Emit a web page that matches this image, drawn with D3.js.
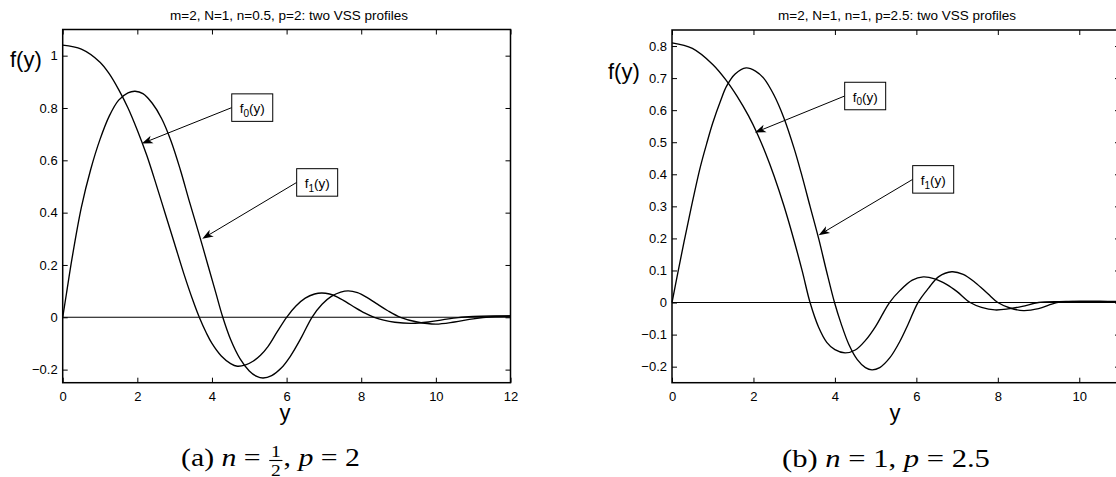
<!DOCTYPE html>
<html><head><meta charset="utf-8">
<script src="https://cdn.jsdelivr.net/npm/d3@7"></script>
<style>
body{margin:0;background:#fff}
svg{display:block}
text{fill:#000}
</style>
</head><body>
<svg id="c" width="1116" height="477"></svg>
<script>
// ---------------- data ----------------
const titleA = "m=2, N=1, n=0.5, p=2: two VSS profiles";
const titleB = "m=2, N=1, n=1, p=2.5: two VSS profiles";
const xTicksA = [0, 2, 4, 6, 8, 10, 12];
const yTicksA = [-0.2, 0, 0.2, 0.4, 0.6, 0.8, 1];
const xTicksB = [0, 2, 4, 6, 8, 10];
const yTicksB = [-0.2, -0.1, 0, 0.1, 0.2, 0.3, 0.4, 0.5, 0.6, 0.7, 0.8];

// panel (a): n=0.5, p=2
const aF0y = [0,0.5,1,1.25,1.5,1.75,2,2.25,2.5,2.75,3,3.25,3.5,3.66,3.85,4,4.25,4.5,4.68,4.9,5.1,5.3,5.5,5.75,6,6.25,6.5,6.75,6.94,7.15,7.35,7.6,7.85,8.1,8.35,8.6,8.9,9.35,9.8,10.2,10.6,11,11.5,12];
const aF0  = [1.04,1.025,0.975,0.93,0.87,0.80,0.715,0.62,0.51,0.395,0.28,0.165,0.06,0,-0.06,-0.1,-0.148,-0.177,-0.187,-0.182,-0.168,-0.145,-0.112,-0.055,0,0.043,0.073,0.089,0.093,0.089,0.078,0.058,0.036,0.016,0,-0.011,-0.019,-0.023,-0.018,-0.009,-0.001,0.003,0.005,0.005];
const aF1y = [0,0.1,0.25,0.5,0.75,1,1.25,1.5,1.75,1.94,2.15,2.4,2.65,2.9,3.15,3.4,3.65,3.9,4.1,4.29,4.5,4.75,5,5.2,5.37,5.6,5.85,6.1,6.4,6.68,6.95,7.2,7.45,7.65,7.9,8.15,8.4,8.7,9.05,9.5,10,10.5,11,11.5,12];
const aF1  = [0,0.09,0.225,0.42,0.565,0.68,0.77,0.83,0.858,0.864,0.855,0.818,0.76,0.675,0.565,0.44,0.32,0.195,0.095,0,-0.085,-0.158,-0.205,-0.226,-0.232,-0.223,-0.195,-0.149,-0.076,0,0.05,0.08,0.096,0.101,0.094,0.076,0.053,0.026,0,-0.018,-0.026,-0.018,-0.006,0.002,0.005];

// panel (b): n=1, p=2.5
const bF0y = [0,0.5,1,1.34,1.6,1.88,2.1,2.3,2.5,2.75,3,3.2,3.39,3.6,3.8,4,4.25,4.5,4.75,5,5.15,5.34,5.6,5.9,6.17,6.45,6.75,7,7.32,7.6,7.93,8.25,8.6,9,9.5,10,10.5,11];
const bF0  = [0.81,0.7925,0.7425,0.6915,0.643,0.582,0.525,0.465,0.397,0.301,0.192,0.097,0,-0.077,-0.124,-0.147,-0.157,-0.148,-0.118,-0.074,-0.041,0,0.038,0.07,0.08,0.074,0.056,0.034,0,-0.015,-0.023,-0.02,-0.012,0,0.003,0.003,0.003,0.003];
const bF1y = [0,0.15,0.3,0.47,0.69,0.85,1,1.2,1.34,1.55,1.82,2.05,2.25,2.5,2.75,3,3.17,3.39,3.6,3.79,3.99,4.15,4.34,4.55,4.75,4.91,5.1,5.35,5.6,5.8,6.04,6.3,6.55,6.87,7.15,7.45,7.75,8,8.3,8.63,9,9.45,10,10.5,11];
const bF1  = [0,0.097,0.192,0.295,0.42,0.495,0.56,0.632,0.675,0.713,0.732,0.722,0.7,0.648,0.575,0.48,0.405,0.3,0.2,0.1,0,-0.065,-0.13,-0.178,-0.203,-0.21,-0.203,-0.172,-0.12,-0.067,0,0.045,0.081,0.096,0.088,0.062,0.028,0,-0.017,-0.025,-0.019,0,0.004,0.004,0.003];

// annotations (data coords: box left/top, arrow head)
const annA = [{sub:"0", bx:4.53, by:0.854, hx:2.12, hy:0.664},
              {sub:"1", bx:6.27, by:0.568, hx:3.74, hy:0.30}];
const annB = [{sub:"0", bx:4.24, by:0.687, hx:2.035, hy:0.53},
              {sub:"1", bx:5.91, by:0.427, hx:3.60, hy:0.21}];

const capA = [{t:"(a) "},{t:"n",it:1},{t:" = "},{frac:["1","2"]},{t:", "},{t:"p",it:1},{t:" = 2"}];
const capB = [{t:"(b) "},{t:"n",it:1},{t:" = 1, "},{t:"p",it:1},{t:" = 2.5"}];

// ---------------- drawing ----------------
const SANS = '"Liberation Sans",Arial,Helvetica,sans-serif';
const SERIF = '"Liberation Serif","Times New Roman",serif';
const svg = d3.select("#c");
const fmt = d => (d === 0 ? "0" : String(d).replace("-", "\u2212"));

function panel(o) {
  const x = d3.scaleLinear().domain(o.xd).range([o.x0, o.x1]);
  const y = d3.scaleLinear().domain(o.yd).range([o.y1, o.y0]);
  const g = svg.append("g");
  const line = d3.line().x(d => x(d[0])).y(d => y(d[1])).curve(d3.curveCatmullRom.alpha(0.5));

  g.append("path").datum(o.xd.map(v => [v, 0])).attr("d", d3.line().x(d => x(d[0])).y(d => y(d[1])))
    .attr("fill", "none").attr("stroke", "#000").attr("stroke-width", 1.1);
  o.series.forEach(s => {
    g.append("path").datum(s[0].map((v, i) => [v, s[1][i]])).attr("d", line)
      .attr("fill", "none").attr("stroke", "#000").attr("stroke-width", 1.35);
  });

  const tl = 5;
  const ab = g.append("g").attr("transform", `translate(0,${o.y1})`)
    .call(d3.axisBottom(x).tickValues(o.xt).tickSizeInner(-tl).tickSizeOuter(0).tickPadding(9).tickFormat(fmt));
  const at = g.append("g").attr("transform", `translate(0,${o.y0})`)
    .call(d3.axisTop(x).tickValues(o.xt).tickSizeInner(-tl).tickSizeOuter(0).tickFormat(""));
  const al = g.append("g").attr("transform", `translate(${o.x0},0)`)
    .call(d3.axisLeft(y).tickValues(o.yt).tickSizeInner(-tl).tickSizeOuter(0).tickPadding(5).tickFormat(fmt));
  const ar = g.append("g").attr("transform", `translate(${o.x1},0)`)
    .call(d3.axisRight(y).tickValues(o.yt).tickSizeInner(-tl).tickSizeOuter(0).tickFormat(""));
  [ab, at, al, ar].forEach(a => {
    a.select(".domain").remove();
    a.selectAll("line").attr("stroke", "#000").attr("stroke-width", 1);
    a.selectAll("text").style("font-size", "13px").style("font-family", SANS).attr("fill", "#000");
  });
  g.append("rect").attr("x", o.x0).attr("y", o.y0).attr("width", o.x1 - o.x0).attr("height", o.y1 - o.y0)
    .attr("fill", "none").attr("stroke", "#000").attr("stroke-width", 1.5);

  g.append("text").attr("x", o.tx).attr("y", 20).attr("text-anchor", "middle")
    .style("font-family", SANS).style("font-size", "13.5px").text(o.title);
  g.append("text").attr("x", o.ylx).attr("y", o.yly).style("font-family", SANS).style("font-size", "22px").text("f(y)");
  g.append("text").attr("x", o.xlx).attr("y", 420).attr("text-anchor", "middle")
    .style("font-family", SANS).style("font-size", "22px").text("y");

  o.ann.forEach(a => {
    const bw = 41, bh = 27.5;
    const bx = x(a.bx), by = y(a.by);
    const tx = bx, ty = by + bh / 2;
    const hx = x(a.hx), hy = y(a.hy);
    const dx = hx - tx, dy = hy - ty, L = Math.hypot(dx, dy);
    const ux = dx / L, uy = dy / L, nx = -uy, ny = ux;
    const al_ = 11, w = 4, notch = 3;
    const bxx = hx - (al_ - notch) * ux, byy = hy - (al_ - notch) * uy;
    g.append("line").attr("x1", tx).attr("y1", ty).attr("x2", bxx).attr("y2", byy)
      .attr("stroke", "#000").attr("stroke-width", 1);
    g.append("path").attr("d",
      `M${hx},${hy}L${hx - al_ * ux + w * nx},${hy - al_ * uy + w * ny}L${bxx},${byy}L${hx - al_ * ux - w * nx},${hy - al_ * uy - w * ny}Z`)
      .attr("fill", "#000");
    g.append("rect").attr("x", bx).attr("y", by).attr("width", bw).attr("height", bh)
      .attr("fill", "#fff").attr("stroke", "#000").attr("stroke-width", 1);
    const t = g.append("text").attr("x", bx + bw / 2).attr("y", by + 19.5).attr("text-anchor", "middle")
      .style("font-family", SANS).style("font-size", "13.5px");
    t.append("tspan").text("f");
    t.append("tspan").attr("dy", 3.5).style("font-size", "10px").text(a.sub);
    t.append("tspan").attr("dy", -3.5).text("(y)");
  });
}

panel({x0: 62.7, x1: 510.5, y0: 29.5, y1: 382.7, xd: [0, 12], yd: [-0.25, 1.1],
       xt: xTicksA, yt: yTicksA, title: titleA, tx: 289, ylx: 10, yly: 66.5, xlx: 285,
       series: [[aF0y, aF0], [aF1y, aF1]], ann: annA});
panel({x0: 672, x1: 1120, y0: 30, y1: 382.7, xd: [0, 11], yd: [-0.25, 0.85],
       xt: xTicksB, yt: yTicksB, title: titleB, tx: 897, ylx: 608, yly: 79, xlx: 895,
       series: [[bF0y, bF0], [bF1y, bF1]], ann: annB});

function caption(left, right, base, parts) {
  const grp = svg.append("g");
  const inner = grp.append("g");
  const fs = 26;
  let xx = 0;
  parts.forEach(p => {
    if (p.frac) {
      const n = inner.append("text").style("font-family", SERIF).style("font-size", "17px").text(p.frac[0]);
      const d = inner.append("text").style("font-family", SERIF).style("font-size", "17px").text(p.frac[1]);
      const w = Math.max(n.node().getComputedTextLength(), d.node().getComputedTextLength()) + 3;
      n.attr("x", xx + 1 + w / 2).attr("y", base - 8.5).attr("text-anchor", "middle");
      d.attr("x", xx + 1 + w / 2).attr("y", base + 10).attr("text-anchor", "middle");
      inner.append("line").attr("x1", xx + 1).attr("x2", xx + 1 + w).attr("y1", base - 5.5).attr("y2", base - 5.5)
        .attr("stroke", "#000").attr("stroke-width", 1.1);
      xx += w + 2;
    } else {
      const t = inner.append("text").attr("x", xx).attr("y", base)
        .style("font-family", SERIF).style("font-size", fs + "px")
        .style("font-style", p.it ? "italic" : "normal").style("white-space", "pre").text(p.t);
      xx += t.node().getComputedTextLength();
    }
  });
  const sx = (right - left) / xx;
  grp.attr("transform", `translate(${left},0) scale(${sx},1)`);
}
caption(181, 360, 466, capA);
caption(782, 990, 467, capB);
</script>
</body></html>
